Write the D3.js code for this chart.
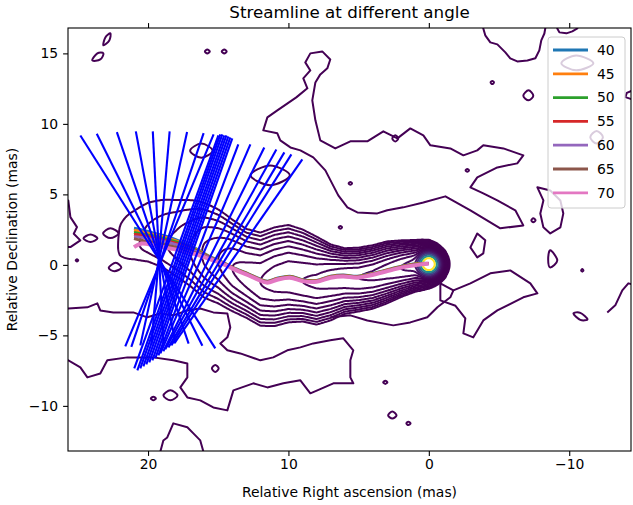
<!DOCTYPE html>
<html><head><meta charset="utf-8">
<script src="https://cdn.jsdelivr.net/npm/d3@7"></script>
<style>body{margin:0;background:#fff}svg{display:block}text{font-family:"DejaVu Sans",sans-serif;fill:#000}</style>
</head><body><svg id="c" width="633" height="505"></svg>
<script>
// ---------------- data ----------------
const xTicks=[20,10,0,-10];
const yTicks=[15,10,5,0,-5,-10];
const angles=["40","45","50","55","60","65","70"];
const angleColors=["#1f77b4","#ff7f0e","#2ca02c","#d62728","#9467bd","#8c564b","#e377c2"];
const slX=[0,0.8,1.8,2.6,3.2,4.2,5.1,6.1,7.0,8.0,8.9,9.9,10.8,11.5,12.2,13.0,13.7,14.6,15.6,16.6,17.6,18.6,19.6,20.5,21.0];
const s40=[0.1,0.1,-0.06,-0.25,-0.41,-0.65,-0.81,-0.72,-0.81,-1.1,-1.07,-0.81,-0.95,-1.16,-0.93,-0.57,-0.29,0.14,0.58,1.15,1.6,2.0,2.25,2.5,2.6];
const s45=[0.1,0.08,-0.08,-0.27,-0.43,-0.67,-0.83,-0.74,-0.83,-1.12,-1.09,-0.83,-0.97,-1.18,-0.95,-0.59,-0.31,0.12,0.56,1.1,1.55,1.9,2.15,2.35,2.45];
const s50=[0.1,0.06,-0.1,-0.29,-0.45,-0.69,-0.85,-0.76,-0.85,-1.14,-1.11,-0.85,-0.99,-1.2,-0.97,-0.61,-0.33,0.1,0.54,1.05,1.5,1.8,2.05,2.2,2.3];
const s55=[0.1,0.05,-0.11,-0.3,-0.46,-0.7,-0.86,-0.77,-0.86,-1.15,-1.12,-0.86,-1.0,-1.21,-0.98,-0.62,-0.34,0.09,0.52,1.0,1.4,1.7,1.95,2.1,2.15];
const s60=[0.1,0.03,-0.13,-0.32,-0.48,-0.72,-0.88,-0.79,-0.88,-1.17,-1.14,-0.88,-1.02,-1.23,-1.0,-0.64,-0.36,0.07,0.5,0.95,1.3,1.6,1.8,1.95,2.0];
const s65=[0.1,0.02,-0.14,-0.33,-0.49,-0.73,-0.89,-0.8,-0.89,-1.18,-1.15,-0.89,-1.03,-1.24,-1.01,-0.65,-0.37,0.06,0.45,0.85,1.15,1.4,1.6,1.75,1.86];
const s70=[0.1,0.0,-0.16,-0.35,-0.51,-0.75,-0.91,-0.82,-0.91,-1.2,-1.17,-0.91,-1.05,-1.26,-1.03,-0.67,-0.39,0.04,0.4,0.75,1.0,1.2,1.4,1.5,1.26];
const streamY=[s40,s45,s50,s55,s60,s65,s70];

// transverse slices [x1,y1,x2,y2] (mas)
const slicesA=[[24.82,9.18,15.21,-5.92],[23.65,9.30,16.13,-5.74],[22.22,9.42,17.11,-5.59],[20.87,9.47,18.06,-5.50],[19.66,9.47,18.91,-5.57],[18.46,9.47,19.76,-5.64],[17.22,9.42,20.55,-5.71],[16.04,9.35,21.19,-5.82],[15.33,9.26,21.62,-5.78]];
const slicesB=[[14.99,9.18,20.98,-7.34],[14.85,9.26,20.76,-7.48],[14.71,9.26,20.55,-7.34],[14.57,9.18,20.33,-7.20],[14.42,9.18,20.12,-7.06],[14.28,9.11,19.91,-6.91],[14.14,9.04,19.69,-6.77],[14.0,8.97,19.48,-6.63]];
const slicesC=[[13.57,8.55,19.26,-6.42],[12.71,8.55,19.12,-6.28],[11.72,8.33,18.91,-6.13],[10.86,8.19,18.77,-5.99],[10.29,7.98,18.55,-5.85],[9.79,7.84,18.34,-5.71],[9.01,7.48,18.13,-5.57]];

// jet brightness model: ridge position, log2 level, half widths above/below
const ridgeX=[-1.2,-0.6,0,0.5,1,2,3,4,5,6,7,8,9,10,11,12,13,14,15,16,17,18,19,20,21,22,22.8];
const ridgeY=[0,0.05,0.1,0.05,0,-0.2,-0.45,-0.75,-0.9,-0.85,-0.95,-1.2,-1.15,-0.95,-1.05,-1.2,-0.75,-0.25,0.3,0.7,1.0,1.2,1.35,1.45,1.4,1.3,1.2];
const ridgeLev=[1,6,10,10.8,10.5,10,9.5,9.2,9,8.8,8.5,8.2,8,7.8,7.5,7,6.5,6,5,4.2,3.0,2.3,1.8,1.3,0.8,0.2,-1];
const ridgeWU=[0.5,0.5,0.45,0.45,0.46,0.52,0.58,0.6,0.6,0.58,0.7,0.95,1.1,1.15,1.15,1.12,1.1,1.2,1.38,1.53,1.76,1.9,2.06,2.2,2.3,2.8,2.8];
const ridgeWD=[0.5,0.5,0.48,0.48,0.5,0.56,0.63,0.66,0.68,0.75,0.87,0.9,0.86,0.95,1.02,1.0,1.0,1.05,1.15,1.25,1.22,1.12,0.95,0.9,0.95,1.2,1.2];
const coreX=0, coreY=0.05, coreLog2=16.3, coreSigma=0.31;
const contourLevels=[1,2,4,8,16,32,64,128,256,512,1024,2048,4096,8192,16384,32768];

// lowest-level contour traces (mas)
const loops=[
 [[8.44,15.0],[8.80,14.36],[8.44,13.79],[8.94,13.23],[8.65,12.52],[9.44,11.88],[10.79,10.96],[11.50,10.46],[11.79,9.54],[10.79,9.33],[10.58,8.83],[9.86,8.33],[9.15,8.12],[8.23,7.62],[7.37,6.70],[6.45,4.93],[5.80,4.08],[5.09,3.72],[3.67,3.65],[2.96,3.87],[1.82,4.08],[0.39,4.43],[-1.18,4.86],[-2.96,3.87],[-5.09,2.59],[-6.73,2.80],[-6.16,3.87],[-4.88,4.57],[-3.88,5.07],[-2.96,5.50],[-3.45,6.21],[-4.88,6.91],[-6.30,7.20],[-6.73,7.77],[-5.31,8.26],[-3.88,8.48],[-3.45,8.12],[-2.46,7.77],[-1.53,8.26],[-0.11,8.48],[0.39,9.18],[1.32,9.68],[2.24,8.97],[3.24,9.47],[4.38,8.76],[5.59,8.76],[6.66,8.26],[7.73,8.83],[8.08,10.25],[8.30,11.67],[8.08,12.94],[7.73,13.51],[7.23,13.94],[7.02,14.57],[7.59,15.14]],
 [[25.68,-3.09],[24.32,-3.01],[23.61,-2.73],[23.40,-3.23],[22.47,-3.37],[21.05,-3.37],[20.05,-3.72],[19.12,-3.44],[18.20,-3.58],[17.20,-3.23],[16.28,-3.09],[15.35,-3.37],[14.35,-3.44],[14.14,-4.43],[14.35,-5.14],[14.85,-5.57],[14.35,-6.06],[13.43,-6.28],[12.00,-6.77],[11.08,-6.56],[10.08,-6.06],[9.15,-5.85],[8.23,-5.57],[7.02,-5.35],[6.09,-5.21],[5.38,-6.06],[5.59,-6.77],[5.59,-7.98],[5.38,-8.40],[6.80,-8.40],[7.94,-8.90],[8.44,-9.11],[9.15,-8.19],[10.36,-8.40],[11.50,-8.69],[12.50,-8.40],[13.92,-8.90],[14.35,-10.32],[15.35,-10.11],[16.28,-9.61],[17.20,-9.40],[17.70,-8.69],[17.20,-7.98],[17.20,-6.99],[18.20,-6.77],[19.62,-6.56],[21.47,-6.56],[22.90,-6.77],[23.40,-7.70],[24.32,-7.98],[24.82,-7.27],[25.68,-6.77],[26.5,-6.77],[26.5,-3.09]],
 [[-0.82,-1.31],[-1.75,-1.81],[-2.96,-1.31],[-4.38,-0.60],[-5.80,-0.39],[-7.23,-1.31],[-7.73,-2.02],[-6.73,-2.30],[-4.88,-3.23],[-3.88,-3.94],[-3.17,-5.14],[-2.46,-4.86],[-2.6,-3.8],[-1.9,-2.9],[-0.82,-2.52]],
 [[-7.73,5.5],[-8.16,4.57],[-7.94,3.65],[-8.16,2.66],[-8.65,2.23],[-9.37,2.66],[-9.58,3.65],[-9.37,4.57],[-8.65,5.28]],
 [[-3.45,2.23],[-2.96,1.24],[-3.45,0.53],[-3.88,0.82],[-4.02,1.74]]
];
const openTraces=[
 [[-3.88,17.2],[-3.88,16.77],[-4.02,16.28],[-4.38,15.78],[-4.88,15.64],[-5.45,15.07],[-5.80,14.65],[-6.30,14.43],[-7.02,14.50],[-7.59,14.65],[-7.87,15.21],[-8.01,15.92],[-8.23,16.41],[-8.37,17.2]],
 [[-9.15,17.2],[-9.15,16.77],[-9.3,16.49],[-9.8,16.42],[-10.22,16.56],[-10.58,16.77],[-10.58,17.2]],
 [[26.5,4.57],[25.68,4.57],[25.53,3.39],[25.06,2.68],[25.29,2.21],[24.82,1.74],[25.53,1.26],[26.5,1.26]],
 [[19.12,-13.6],[19.12,-13.23],[18.91,-12.45],[18.63,-12.24],[18.2,-11.24],[17.2,-11.52],[16.77,-11.95],[16.28,-12.45],[16.06,-13.23],[16.06,-13.6]],
 [[-12.71,-3.37],[-13.28,-2.87],[-13.78,-1.81],[-14.21,-1.31],[-14.6,-1.4]],
 [[7.02,-3.72],[5.59,-3.58],[4.38,-3.94],[2.53,-4.29],[1.32,-4.08],[0.11,-3.72],[-0.61,-3.01],[-1.53,-2.30],[-1.75,-1.81]],
 [[-14.6,12.4],[-14.1,12.2],[-14.0,11.9],[-14.6,11.7]]
];
const blobs=[
 [[23.18,15.57],[23.04,16.13],[22.68,16.42],[22.76,15.92]],
 [[23.97,14.5],[23.61,15.0],[23.18,15.0],[23.4,14.57]],
 [[15.95,15.14],[15.78,15.28],[15.6,15.14],[15.78,15.0]],
 [[14.75,15.14],[14.57,15.28],[14.4,15.14],[14.57,15.0]],
 [[24.6,1.88],[24.1,2.15],[23.6,1.88],[24.1,1.62]],
 [[23.2,2.23],[22.68,2.6],[22.1,2.23],[22.68,1.9]],
 [[25.15,0.32],[25.06,0.4],[24.97,0.32],[25.06,0.24]],
 [[22.8,-0.2],[22.3,0.15],[21.9,-0.2],[22.4,-0.45]],
 [[17.0,8.1],[16.2,8.6],[15.4,8.1],[16.2,7.6]],
 [[12.7,6.35],[11.3,7.05],[9.9,6.35],[11.3,5.65]],
 [[19.8,-9.47],[19.62,-9.35],[19.44,-9.47],[19.62,-9.6]],
 [[18.9,-9.26],[18.41,-8.9],[17.9,-9.26],[18.41,-9.6]],
 [[15.45,-7.34],[15.21,-7.1],[14.97,-7.34],[15.21,-7.6]],
 [[-10.3,-3.45],[-10.79,-3.4],[-11.3,-3.85],[-10.79,-3.9]],
 [[-10.85,-0.39],[-10.93,-0.3],[-11.01,-0.39],[-10.93,-0.48]],
 [[2.9,-10.67],[2.6,-10.4],[2.3,-10.67],[2.6,-10.9]],
 [[1.6,-11.24],[1.46,-11.12],[1.3,-11.24],[1.46,-11.36]],
 [[3.25,-8.33],[3.1,-8.22],[2.95,-8.33],[3.1,-8.44]],
 [[-6.73,12.0],[-7.1,12.38],[-7.44,12.0],[-7.1,11.67]],
 [[-4.4,12.94],[-4.52,13.05],[-4.64,12.94],[-4.52,12.83]],
 [[-7.3,3.16],[-7.44,3.3],[-7.6,3.16],[-7.44,3.02]],
 [[-8.5,0.4],[-8.65,1.03],[-9.15,0.32],[-8.65,-0.18]],
 [[2.6,8.97],[2.39,9.2],[2.18,8.97],[2.39,8.75]],
 [[-2.62,6.7],[-2.74,6.8],[-2.86,6.7],[-2.74,6.6]],
 [[5.71,5.78],[5.59,5.88],[5.47,5.78],[5.59,5.68]],
 [[6.42,2.66],[6.3,2.76],[6.18,2.66],[6.3,2.56]],
 [[-9.44,14.3],[-10.5,14.85],[-11.72,14.3],[-10.5,13.8]],
 [[-11.5,9.05],[-11.95,9.5],[-12.4,9.05],[-11.95,8.6]]
];

// ---------------- layout ----------------
const L=68,R=631,T=28,B=451;
const x=d3.scaleLinear().domain([25.7,-14.4]).range([L,R]);
const y=d3.scaleLinear().domain([16.8,-13.2]).range([T,B]);
const svg=d3.select("#c");
svg.append("rect").attr("width",633).attr("height",505).attr("fill","#fff");
svg.append("defs").append("clipPath").attr("id","clip").append("rect").attr("x",L).attr("y",T).attr("width",R-L).attr("height",B-T);
const g=svg.append("g").attr("clip-path","url(#clip)");
const purple="#440154";

// outer low-level contours
const lineLin=d3.line().x(d=>x(d[0])).y(d=>y(d[1]));
const lineClosed=d3.line().x(d=>x(d[0])).y(d=>y(d[1])).curve(d3.curveLinearClosed);
const lineSmooth=d3.line().x(d=>x(d[0])).y(d=>y(d[1])).curve(d3.curveCardinalClosed.tension(0));
g.selectAll("path.loop").data(loops).join("path").attr("d",lineClosed).attr("fill","none").attr("stroke",purple).attr("stroke-width",2).attr("stroke-linejoin","round");
g.selectAll("path.open").data(openTraces).join("path").attr("d",lineLin).attr("fill","none").attr("stroke",purple).attr("stroke-width",2).attr("stroke-linejoin","round");
g.selectAll("path.blob").data(blobs).join("path").attr("d",lineSmooth).attr("fill","none").attr("stroke",purple).attr("stroke-width",2);

// jet contours from brightness model
const gx0=-3.5,gx1=26,gy0=-9,gy1=9,step=0.08;
const nx=Math.round((gx1-gx0)/step)+1, ny=Math.round((gy1-gy0)/step)+1;
function interp(arr,xx){
  let i=d3.bisectRight(ridgeX,xx)-1; if(i<0)i=0; if(i>=ridgeX.length-1)i=ridgeX.length-2;
  const t=(xx-ridgeX[i])/(ridgeX[i+1]-ridgeX[i]); return arr[i]+(arr[i+1]-arr[i])*t;
}
const vals=new Float64Array(nx*ny);
const xr0=ridgeX[0], xr1=ridgeX[ridgeX.length-1];
for(let i=0;i<nx;i++){
  const xx=gx0+i*step, inR=xx>=xr0&&xx<=xr1;
  let y0,lv,wu,wd; if(inR){y0=interp(ridgeY,xx);lv=interp(ridgeLev,xx);wu=interp(ridgeWU,xx);wd=interp(ridgeWD,xx);}
  for(let j=0;j<ny;j++){
    const yy=gy0+j*step, dx=xx-coreX, dy=yy-coreY;
    let v=Math.pow(2,coreLog2)*Math.exp(-0.5*(dx*dx+dy*dy)/(coreSigma*coreSigma));
    if(inR){const w=yy>y0?wu:wd; const d=(yy-y0)/w; v+=Math.pow(2,lv)*Math.exp(-0.5*d*d);}
    vals[i+j*nx]=v;
  }
}
const cs=d3.contours().size([nx,ny]).thresholds(contourLevels)(vals);
const proj=d3.geoTransform({point(px,py){this.stream.point(x(gx0+(px-0.5)*step),y(gy0+(py-0.5)*step));}});
const gpath=d3.geoPath(proj);
const lmin=contourLevels[0], lmax=contourLevels[contourLevels.length-1];
g.selectAll("path.jet").data(cs).join("path").attr("d",gpath).attr("fill","none")
 .attr("stroke",d=>d3.interpolateViridis((d.value-lmin)/(lmax-lmin))).attr("stroke-width",2).attr("stroke-linejoin","round");

// streamlines
const sl=d3.line().x(d=>x(d[0])).y(d=>y(d[1])).curve(d3.curveCatmullRom);
streamY.forEach((arr,k)=>{
  g.append("path").attr("d",sl(slX.map((v,i)=>[v,arr[i]]))).attr("fill","none").attr("stroke",angleColors[k]).attr("stroke-width",k===6?4:3).attr("stroke-linecap","butt");
});

// slice lines
g.selectAll("line.sl").data([...slicesA,...slicesB,...slicesC]).join("line")
 .attr("x1",d=>x(d[0])).attr("y1",d=>y(d[1])).attr("x2",d=>x(d[2])).attr("y2",d=>y(d[3]))
 .attr("stroke","#0000ff").attr("stroke-width",2.1);

// axes
const fs="13.9px";
const ax=svg.append("g").attr("transform",`translate(0,${B})`).call(d3.axisBottom(x).tickValues(xTicks).tickSize(4.9).tickPadding(3.5).tickFormat(d3.format("d")));
const axT=svg.append("g").attr("transform",`translate(0,${T})`).call(d3.axisTop(x).tickValues(xTicks).tickSize(4.9).tickFormat(""));
const ay=svg.append("g").attr("transform",`translate(${L},0)`).call(d3.axisLeft(y).tickValues(yTicks).tickSize(4.9).tickPadding(5).tickFormat(d3.format("d")));
[ax,axT,ay].forEach(a=>{a.select(".domain").remove();a.selectAll("line").attr("stroke","#000").attr("stroke-width",1.1);a.selectAll("text").attr("font-size",fs).attr("font-family","DejaVu Sans").attr("fill","#000");});
svg.append("rect").attr("x",L).attr("y",T).attr("width",R-L).attr("height",B-T).attr("fill","none").attr("stroke","#000").attr("stroke-width",1.1);

// legend
const lg=svg.append("g");
lg.append("rect").attr("x",548).attr("y",37).attr("width",77).attr("height",171).attr("rx",3).attr("fill","#fff").attr("fill-opacity",0.8).attr("stroke","#cccccc").attr("stroke-width",1);
angles.forEach((a,i)=>{
  const yy=50+i*23.8;
  lg.append("line").attr("x1",553).attr("x2",588).attr("y1",yy).attr("y2",yy).attr("stroke",angleColors[i]).attr("stroke-width",2.8);
  lg.append("text").attr("x",597).attr("y",yy).attr("dy","0.35em").attr("font-size",fs).text(a);
});

// titles
svg.append("text").attr("x",(L+R)/2).attr("y",18).attr("text-anchor","middle").attr("font-size","16.7px").text("Streamline at different angle");
svg.append("text").attr("x",(L+R)/2).attr("y",497).attr("text-anchor","middle").attr("font-size",fs).text("Relative Right ascension (mas)");
svg.append("text").attr("transform",`translate(17,${(T+B)/2}) rotate(-90)`).attr("text-anchor","middle").attr("font-size",fs).text("Relative Declination (mas)");
</script></body></html>
